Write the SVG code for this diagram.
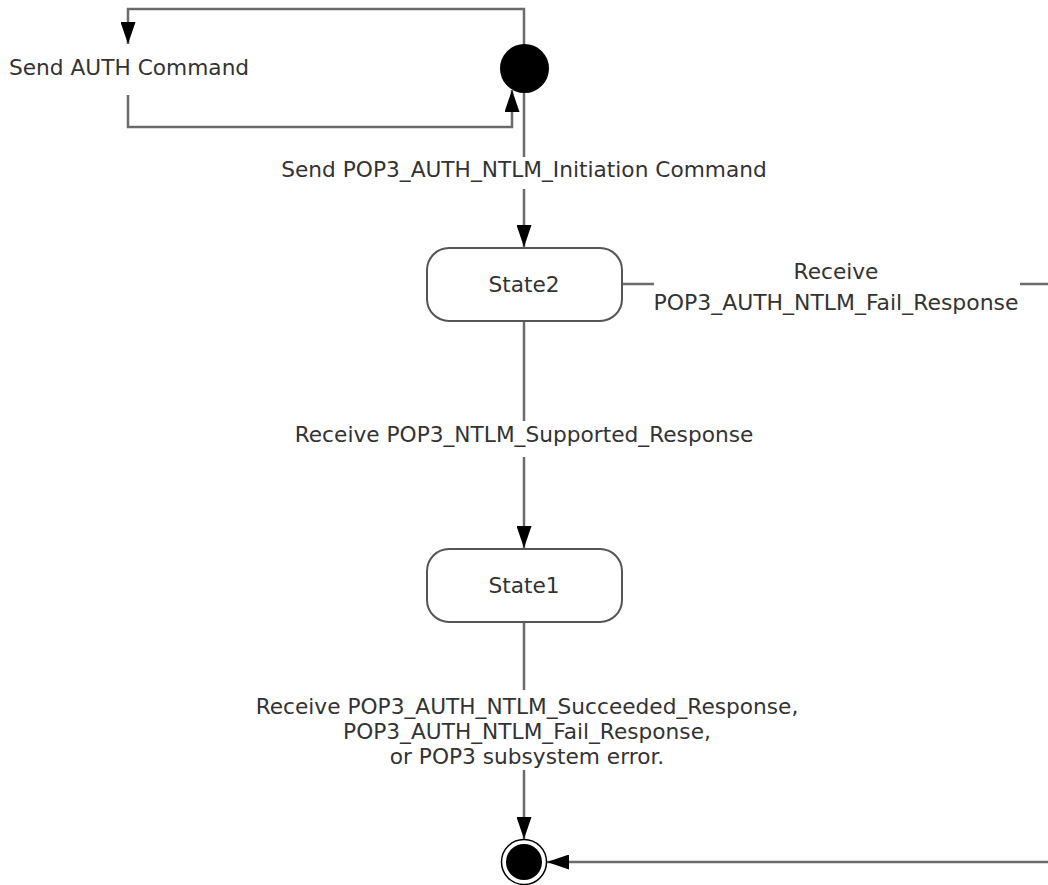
<svg xmlns="http://www.w3.org/2000/svg" width="1048" height="885" viewBox="0 0 1048 885">
<style>
.c{fill:none;stroke:#6b6b6b;stroke-width:2.5}
.s{fill:#fff;stroke:#555;stroke-width:2}
.bg{fill:#fff}
text{font-family:"DejaVu Sans",Verdana,sans-serif;font-size:21.7px;fill:#333}
.m{text-anchor:middle}
</style>
<defs>
<marker id="a" viewBox="0 0 22 15" refX="22" refY="7.5" markerWidth="22" markerHeight="15" markerUnits="userSpaceOnUse" orient="auto">
<path d="M0,0 L22,7.5 L0,15 z" fill="#000"/>
</marker>
</defs>
<rect width="1048" height="885" fill="#fff"/>
<g id="connectors">
<path class="c" d="M524,46 V9 H128 V44" marker-end="url(#a)"/>
<path class="c" d="M128,95 V127 H512 V90" marker-end="url(#a)"/>
<path class="c" d="M524,92 V247" marker-end="url(#a)"/>
<path class="c" d="M524,322 V548" marker-end="url(#a)"/>
<path class="c" d="M524,623 V839" marker-end="url(#a)"/>
<path class="c" d="M623,284 H1070 V862 H547" marker-end="url(#a)"/>
<rect class="bg" x="654" y="257" width="366" height="56"/>
<rect class="bg" x="272" y="157" width="502" height="32"/>
<rect class="bg" x="288" y="421" width="472" height="36"/>
<rect class="bg" x="252" y="690" width="552" height="80"/>
<text x="9" y="75">Send AUTH Command</text>
<text class="m" x="524" y="177">Send POP3_AUTH_NTLM_Initiation Command</text>
<text class="m" x="836" y="279">Receive</text>
<text class="m" x="836" y="310" textLength="365" lengthAdjust="spacingAndGlyphs">POP3_AUTH_NTLM_Fail_Response</text>
<text class="m" x="524" y="442">Receive POP3_NTLM_Supported_Response</text>
<text class="m" x="527" y="714">Receive POP3_AUTH_NTLM_Succeeded_Response,</text>
<text class="m" x="527" y="739">POP3_AUTH_NTLM_Fail_Response,</text>
<text class="m" x="527" y="764">or POP3 subsystem error.</text>
</g>
<g id="initial"><circle cx="524.5" cy="68.5" r="24.5" fill="#000"/></g>
<g id="state2"><rect class="s" x="427" y="248" width="195" height="73" rx="22"/><text class="m" x="524" y="292">State2</text></g>
<g id="state1"><rect class="s" x="427" y="549" width="195" height="73" rx="22"/><text class="m" x="524" y="593">State1</text></g>
<g id="final"><circle cx="524" cy="862" r="22.5" fill="#fff" stroke="#000" stroke-width="1.5"/><circle cx="524" cy="862" r="18" fill="#000"/></g>
</svg>
